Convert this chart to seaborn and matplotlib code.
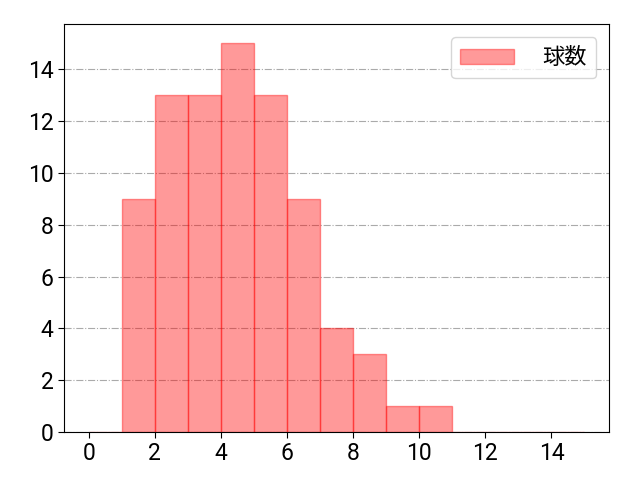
import matplotlib
matplotlib.use('Agg')
import matplotlib.pyplot as plt
import seaborn as sns
import pandas as pd
import numpy as np

# 球数 per bin (bin left edge -> count)
bin_left = [0, 1, 2, 3, 4, 5, 6, 7, 8, 9, 10, 11, 12, 13, 14]
counts = [0, 9, 13, 13, 15, 13, 9, 4, 3, 1, 1, 0, 0, 0, 0]
bin_edges = list(range(0, 16))

df = pd.DataFrame({'x': [b + 0.5 for b in bin_left], 'w': counts})

sns.set_style('white')
plt.rcParams['font.family'] = ['Roboto', 'Noto Sans CJK JP', 'DejaVu Sans']
plt.rcParams['text.color'] = 'black'

fig, ax = plt.subplots(figsize=(6.4, 4.8), dpi=100)
sns.histplot(data=df, x='x', weights='w', bins=bin_edges,
             facecolor=(1, 0, 0, 0.4), edgecolor=(1, 0, 0, 0.4),
             linewidth=1, label='球数', ax=ax)

ax.set_xlim(-0.75, 15.75)
ax.set_ylim(0, 15.75)
ax.set_xticks(range(0, 15, 2))
ax.set_yticks(range(0, 15, 2))
ax.tick_params(labelsize=16.5, direction='out', length=4, left=True, bottom=True,
               colors='black')
ax.set_xlabel('')
ax.set_ylabel('')
ax.yaxis.grid(True, linestyle='-.', color='#aaaaaa', linewidth=0.8)
ax.set_axisbelow(True)
for s in ax.spines.values():
    s.set_color('black')
    s.set_linewidth(0.8)
leg = ax.legend(loc='upper right', handlelength=2.4,
                handletextpad=1.3, borderaxespad=0.6,
                prop={'family': ['Noto Sans CJK JP'], 'size': 16})
for t in leg.get_texts():
    t.set_color('black')

fig.subplots_adjust(left=0.1, right=0.952, top=0.95, bottom=0.1)
plt.savefig('out.png')
